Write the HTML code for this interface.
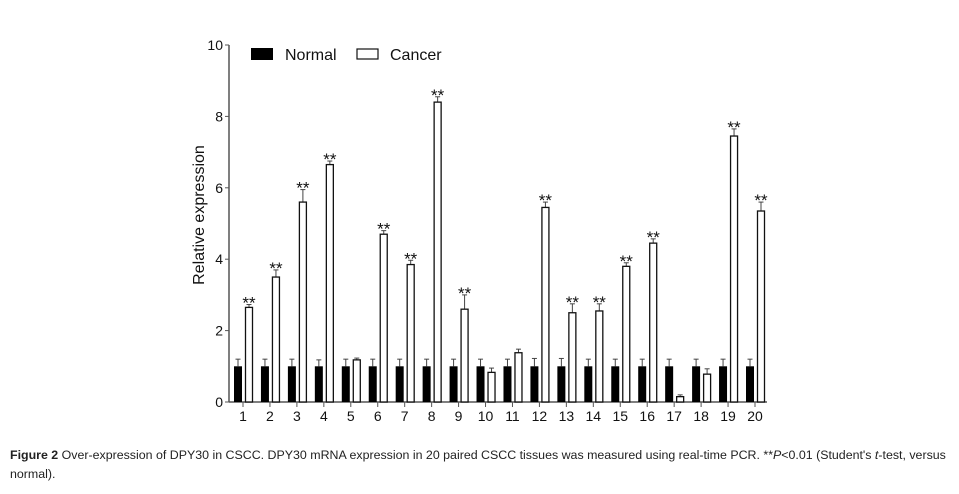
<!DOCTYPE html>
<html><head><meta charset="utf-8"><style>
body{margin:0;background:#fff;width:959px;height:494px;overflow:hidden;font-family:"Liberation Sans",sans-serif}
#cap{position:absolute;left:10px;top:446px;width:948px;font-size:12.4px;line-height:19px;color:#222;font-family:"Liberation Sans",sans-serif;letter-spacing:0px;white-space:nowrap}
</style></head><body>
<svg id="chart" width="959" height="440" style="position:absolute;left:0;top:0"></svg>
<div id="cap"><b>Figure 2</b> Over-expression of DPY30 in CSCC. DPY30 mRNA expression in 20 paired CSCC tissues was measured using real-time PCR. **<i>P</i>&lt;0.01 (Student's <i>t</i>-test, versus<br>normal).</div>
<script>
const categories=["1","2","3","4","5","6","7","8","9","10","11","12","13","14","15","16","17","18","19","20"];
const normalVals=[1,1,1,1,1,1,1,1,1,1,1,1,1,1,1,1,1,1,1,1];
const normalErr=[0.2,0.2,0.2,0.18,0.2,0.2,0.2,0.2,0.2,0.2,0.2,0.22,0.22,0.2,0.2,0.2,0.2,0.2,0.2,0.2];
const cancerVals=[2.65,3.5,5.6,6.65,1.18,4.7,3.85,8.4,2.6,0.83,1.38,5.45,2.5,2.55,3.8,4.45,0.15,0.78,7.45,5.35];
const cancerErr=[0.08,0.2,0.35,0.1,0.05,0.1,0.12,0.15,0.4,0.12,0.1,0.15,0.25,0.2,0.1,0.12,0.05,0.15,0.2,0.25];
const sig=[1,1,1,1,0,1,1,1,1,0,0,1,1,1,1,1,0,0,1,1];
const yTicks=[0,2,4,6,8,10];
const svg=document.getElementById('chart');
const NS='http://www.w3.org/2000/svg';
const x0=229,x1=767,yZero=402,yTop=45;
const y=v=>yZero-(v/10)*(yZero-yTop);
const xc=i=>243+i*(755-243)/(categories.length-1);
function mk(t,a,p){const e=document.createElementNS(NS,t);for(const k in a)e.setAttribute(k,a[k]);(p||svg).appendChild(e);return e;}
let e;
e=mk('line',{x1:x0,y1:y(0),x2:x1,y2:y(0),stroke:'#555','stroke-width':1.5});


e=mk('line',{x1:x0,y1:y(0),x2:x0,y2:y(10),stroke:'#555','stroke-width':1.5});


yTicks.forEach(t=>{
 mk('line',{x1:x0-4,y1:y(t),x2:x0,y2:y(t),stroke:'#555'});
 e=mk('text',{x:x0-6,y:y(t)+5,'text-anchor':'end','font-size':14,fill:'#111'});e.textContent=t;
 
 
});
e=mk('text',{x:204,y:215,'text-anchor':'middle','font-size':16,fill:'#111',transform:'rotate(-90 204 215)'});e.textContent='Relative expression';


const bw=8;
categories.forEach((c,i)=>{
 const cx=xc(i);
 mk('line',{x1:cx,y1:y(0),x2:cx,y2:y(0)+5,stroke:'#555'});
 e=mk('text',{x:cx,y:y(0)+19,'text-anchor':'middle','font-size':14,fill:'#111'});e.textContent=c;
 
 
 const nt=y(normalVals[i]+normalErr[i]);
 mk('line',{x1:cx-5,y1:y(normalVals[i]),x2:cx-5,y2:nt,stroke:'#444'});
 mk('line',{x1:cx-7.5,y1:nt,x2:cx-2.5,y2:nt,stroke:'#444'});
 e=mk('rect',{x:cx-9,y:y(normalVals[i]),width:bw,height:y(0)-y(normalVals[i]),fill:'#000'});
 
 
 const ct=y(cancerVals[i]+cancerErr[i]);
 mk('line',{x1:cx+6,y1:y(cancerVals[i]),x2:cx+6,y2:ct,stroke:'#444'});
 mk('line',{x1:cx+3.5,y1:ct,x2:cx+8.5,y2:ct,stroke:'#444'});
 e=mk('rect',{x:cx+2.5,y:y(cancerVals[i]),width:bw-1,height:y(0)-y(cancerVals[i]),fill:'#fff',stroke:'#111','stroke-width':1.3});
 
 
 if(sig[i]){e=mk('text',{x:cx+6,y:ct+4,'text-anchor':'middle','font-size':17,fill:'#111'});e.textContent='**';
 
 }
});
const lg=mk('g',{});


mk('rect',{x:251,y:48,width:22,height:12,fill:'#000'},lg);
e=mk('text',{x:285,y:60,'font-size':16,fill:'#111'},lg);e.textContent='Normal';
mk('rect',{x:357,y:49,width:21,height:10,fill:'#fff',stroke:'#111','stroke-width':1.2},lg);
e=mk('text',{x:390,y:60,'font-size':16,fill:'#111'},lg);e.textContent='Cancer';
</script>
</body></html>
